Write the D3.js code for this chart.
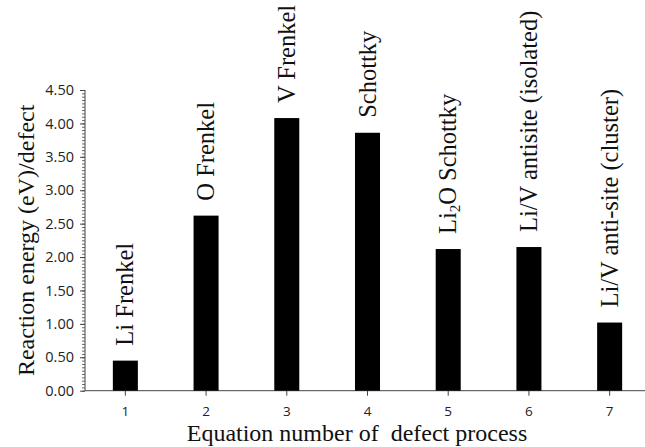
<!DOCTYPE html>
<html>
  <head>
    <script type="text/javascript" src="https://d3js.org/d3.v7.min.js"></script>
    <style>
      body { margin: 0; background: #fff; }
    </style>
  </head>
  <body>
  </body>
  <script>

  var categories = ["1", "2", "3", "4", "5", "6", "7"];
  var energies = [0.45, 2.62, 4.08, 3.86, 2.12, 2.15, 1.02];
  var processNames = ["Li Frenkel", "O Frenkel", "V Frenkel", "Schottky",
                      "Li2O Schottky", "Li/V antisite (isolated)", "Li/V anti-site (cluster)"];
  var yTicks = [0, 0.5, 1, 1.5, 2, 2.5, 3, 3.5, 4, 4.5];

  var width = 645, height = 447;
  var plotLeft = 85, plotRight = 650, plotTop = 90, plotBottom = 390.7;

  var svg = d3.select("body").append("svg")
              .attr("width", width)
              .attr("height", height);

  var x = d3.scaleBand().domain(categories).range([plotLeft, plotRight]).paddingInner(0.69).paddingOuter(0.345);
  var y = d3.scaleLinear().domain([0, 4.5]).range([plotBottom, plotTop]);

  // minor ticks on y
  var minor = d3.range(0, 4.5001, 0.05);
  svg.append("g").attr("transform", "translate(" + plotLeft + ",0)")
     .call(d3.axisLeft(y).tickValues(minor).tickSize(3).tickFormat(""))
     .call(function(g) { g.select(".domain").remove(); })
     .selectAll("line").attr("stroke", "#444").attr("stroke-width", 0.8);

  var yAxis = svg.append("g").attr("transform", "translate(" + plotLeft + ",0)")
     .call(d3.axisLeft(y).tickValues(yTicks).tickSize(5).tickPadding(6).tickFormat(d3.format(".2f")));
  yAxis.select(".domain").attr("stroke", "#444").attr("d", "M0," + plotTop + "V" + plotBottom);
  yAxis.selectAll("line").attr("stroke", "#444");
  yAxis.selectAll("text").attr("font-family", "Open Sans").attr("font-size", 14.5).attr("fill", "#222");

  var xAxis = svg.append("g").attr("transform", "translate(0," + plotBottom + ")")
     .call(d3.axisBottom(x).tickSize(5).tickPadding(11));
  xAxis.select(".domain").attr("stroke", "#444").attr("d", "M" + plotLeft + ",0H" + plotRight);
  xAxis.selectAll("line").attr("stroke", "#444");
  xAxis.selectAll("text").attr("font-family", "Open Sans").attr("font-size", 13.5).attr("fill", "#222");

  svg.selectAll("rect.bar")
     .data(energies)
     .enter().append("rect")
     .attr("class", "bar")
     .attr("x", function(d, i) { return x(categories[i]); })
     .attr("width", x.bandwidth())
     .attr("y", function(d) { return y(d); })
     .attr("height", function(d) { return plotBottom - y(d); })
     .attr("fill", "#000");

  var labels = svg.selectAll("text.lbl")
     .data(energies)
     .enter().append("text")
     .attr("class", "lbl")
     .attr("font-family", "Liberation Serif")
     .attr("font-size", 24.5)
     .attr("fill", "#111")
     .attr("dy", "0.33em")
     .attr("transform", function(d, i) {
        return "translate(" + (x(categories[i]) + x.bandwidth() / 2) + "," + (y(d) - 15) + ") rotate(-90)";
     });

  labels.each(function(d, i) {
    var t = d3.select(this);
    var name = processNames[i];
    if (name.indexOf("Li2O") === 0) {
      t.append("tspan").text("Li");
      t.append("tspan").attr("font-size", 15).attr("dy", "0.25em").text("2");
      t.append("tspan").attr("dy", "-0.15em").text("O" + name.slice(4));
    } else {
      t.text(name);
    }
  });

  svg.append("text")
     .attr("font-family", "Liberation Serif")
     .attr("font-size", 24)
     .attr("fill", "#111")
     .attr("text-anchor", "middle")
     .attr("transform", "translate(34," + ((plotTop + plotBottom) / 2) + ") rotate(-90)")
     .text("Reaction energy (eV)/defect");

  svg.append("text")
     .attr("font-family", "Liberation Serif")
     .attr("font-size", 24)
     .attr("fill", "#111")
     .attr("text-anchor", "middle")
     .attr("x", 357)
     .attr("y", 441)
     .attr("xml:space", "preserve")
     .text("Equation number of  defect process");

  </script>
</html>
